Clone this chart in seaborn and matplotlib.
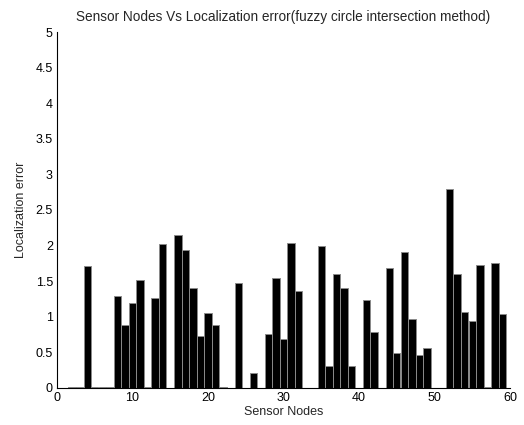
import matplotlib
matplotlib.use("Agg")
import matplotlib.pyplot as plt
import seaborn as sns
import pandas as pd

# Data (nodes with zero error omitted)
nodes = [2, 3, 4, 5, 6, 7, 8, 9, 10, 11, 12, 13, 14, 16, 17, 18, 19, 20, 21, 22,
         24, 26, 28, 29, 30, 31, 32, 35, 36, 37, 38, 39, 41, 42, 44, 45, 46, 47,
         48, 49, 52, 53, 54, 55, 56, 57, 58, 59]
errors = [0.02, 0.02, 1.71, 0.02, 0.02, 0.02, 1.29, 0.88, 1.20, 1.51, 0.02, 1.26, 2.02,
          2.15, 1.94, 1.41, 0.73, 1.05, 0.89, 0.02,
          1.48, 0.21, 0.76, 1.54, 0.69, 2.04, 1.36, 1.99, 0.31, 1.60, 1.41, 0.31,
          1.23, 0.78, 1.69, 0.49, 1.91, 0.97, 0.46, 0.56,
          2.80, 1.60, 1.07, 0.94, 1.73, 0.02, 1.76, 1.04]
xticks = [0, 10, 20, 30, 40, 50, 60]
yticks = [0, 0.5, 1, 1.5, 2, 2.5, 3, 3.5, 4, 4.5, 5]
ytick_labels = ["0", "0.5", "1", "1.5", "2", "2.5", "3", "3.5", "4", "4.5", "5"]

sns.set_style("white")
plt.rcParams['font.family'] = ['Liberation Sans', 'DejaVu Sans']

df = pd.DataFrame({"node": nodes, "err": errors})

fig = plt.figure(figsize=(5.24, 4.25), dpi=100)
ax = fig.add_axes([0.1088, 0.0871, 0.8645, 0.8376])

sns.barplot(data=df, x="node", y="err", native_scale=True, width=0.98,
            color="black", edgecolor="#8a8a8a", linewidth=0.7,
            saturation=1, errorbar=None, ax=ax)
for p in ax.patches:
    p.set_facecolor("black")

ax.set_xlim(0, 60)
ax.set_ylim(0, 5)
ax.set_xticks(xticks)
ax.set_xticklabels([str(t) for t in xticks])
ax.set_yticks(yticks)
ax.set_yticklabels(ytick_labels)
ax.tick_params(direction="in", length=4, width=0.8, labelsize=9, colors="black",
               pad=3)
for s in ["top", "right"]:
    ax.spines[s].set_visible(False)
for s in ["left", "bottom"]:
    ax.spines[s].set_color("black")
    ax.spines[s].set_linewidth(0.8)

ax.set_xlabel("Sensor Nodes", fontsize=9, labelpad=1)
ax.set_ylabel("Localization error", fontsize=9, labelpad=6)
ax.set_title("Sensor Nodes Vs Localization error(fuzzy circle intersection method)",
             fontsize=9.8, pad=8)

fig.savefig("out.png", dpi=100, facecolor="white")
